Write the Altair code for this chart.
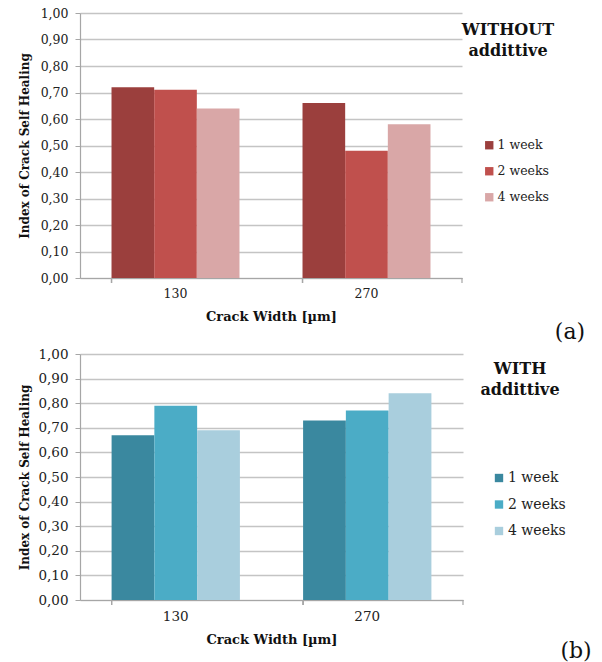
import altair as alt
import pandas as pd

crack_widths = ["130", "270"]
periods = ["1 week", "2 weeks", "4 weeks"]

# WITHOUT additive (panel a)
without_1w = [0.72, 0.66]
without_2w = [0.71, 0.48]
without_4w = [0.64, 0.58]
# WITH additive (panel b)
with_1w = [0.67, 0.73]
with_2w = [0.79, 0.77]
with_4w = [0.69, 0.84]

colors_without = ["#9B3F3D", "#C0504D", "#D9A7A7"]
colors_with = ["#3A889F", "#4BACC6", "#A9CEDD"]
y_ticks = [0.0, 0.1, 0.2, 0.3, 0.4, 0.5, 0.6, 0.7, 0.8, 0.9, 1.0]

FONT = "DejaVu Serif"
X_TITLE = "Crack Width [µm]"


def make_df(s1, s2, s3):
    rows = []
    for series, name in zip([s1, s2, s3], periods):
        for cw, v in zip(crack_widths, series):
            rows.append({"crack": cw, "period": name, "value": v})
    return pd.DataFrame(rows)


def panel(df, colors, title_text, tag, w, h, fs, leg_fs, leg_x, leg_y, leg_pad, title_xy,
          tag_xy, ytitle_pad, left_extent):
    x_axis = alt.Axis(title=X_TITLE, ticks=False, labelAngle=0,
                      labelFont=FONT, labelFontSize=fs, labelColor="#222222",
                      labelPadding=9, titleFont=FONT, titleFontSize=13,
                      titleFontWeight="bold", titleColor="#111111", titlePadding=11,
                      domainColor="#A6A6A6", domainWidth=1.2)
    x_scale = alt.Scale(paddingInner=0.33, paddingOuter=0.165)
    bars = alt.Chart(df).mark_bar().encode(
        x=alt.X("crack:N", sort=crack_widths, scale=x_scale, axis=x_axis),
        xOffset=alt.XOffset("period:N", sort=periods,
                            scale=alt.Scale(paddingInner=0, paddingOuter=0)),
        y=alt.Y("value:Q", scale=alt.Scale(domain=[0, 1]),
                axis=alt.Axis(values=y_ticks,
                              labelExpr="replace(format(datum.value, '.2f'), '.', ',')",
                              title="Index of Crack Self Healing",
                              labelFont=FONT, labelFontSize=fs, labelColor="#222222",
                              tickSize=5, tickColor="#A6A6A6", labelPadding=7,
                              titleFont=FONT, titleFontSize=12, titleFontWeight="bold",
                              titleColor="#111111", titlePadding=ytitle_pad,
                              gridColor="#C4C4C4", gridWidth=1.4,
                              domainColor="#A6A6A6", domainWidth=1.2)),
        color=alt.Color("period:N", sort=periods,
                        scale=alt.Scale(domain=periods, range=colors),
                        legend=alt.Legend(orient="none", legendX=leg_x, legendY=leg_y,
                                          title=None, symbolType="square", symbolSize=70,
                                          symbolStrokeWidth=0, labelFont=FONT,
                                          labelFontSize=leg_fs, labelColor="#222222",
                                          rowPadding=leg_pad, labelOffset=2)),
    )
    xticks = alt.Chart(df).mark_rule(color="#A6A6A6", strokeWidth=1.2).encode(
        x=alt.X("crack:N", sort=crack_widths, bandPosition=0, scale=x_scale, axis=x_axis),
        y=alt.value(h), y2=alt.value(h + 5),
    )
    end_tick = alt.Chart(pd.DataFrame({"t": [0]})).mark_rule(color="#A6A6A6", strokeWidth=1.2).encode(
        x=alt.value(w), y=alt.value(h), y2=alt.value(h + 5),
    )
    # invisible spacer that sets how far the panel reaches to the left
    spacer = alt.Chart(pd.DataFrame({"t": [0]})).mark_rule(opacity=0, strokeWidth=1).encode(
        x=alt.value(-left_extent), y=alt.value(0), y2=alt.value(h),
    )
    title = alt.Chart(pd.DataFrame({"t": [title_text]})).mark_text(
        font=FONT, fontSize=16, fontWeight="bold", color="#111111",
        lineBreak="\n", lineHeight=21, align="center", baseline="top",
    ).encode(text="t:N", x=alt.value(title_xy[0]), y=alt.value(title_xy[1]))
    tag_mark = alt.Chart(pd.DataFrame({"t": [tag]})).mark_text(
        font=FONT, fontSize=22, color="#111111", align="center", baseline="middle",
    ).encode(text="t:N", x=alt.value(tag_xy[0]), y=alt.value(tag_xy[1]))
    return alt.layer(bars, xticks, end_tick, spacer, title, tag_mark).properties(width=w, height=h)


df_a = make_df(without_1w, without_2w, without_4w)
df_b = make_df(with_1w, with_2w, with_4w)

chart_a = panel(df_a, colors_without, "WITHOUT\naddittive", "(a)", 382, 265, 12.5, 12.5,
                403, 126, 13, (428, 9), (490, 319), 9, 66)
chart_b = panel(df_b, colors_with, "WITH\naddittive", "(b)", 383, 246, 13.5, 14,
                412, 117, 12.5, (440, 7), (496, 297), 6, 66)

chart = alt.vconcat(chart_a, chart_b, spacing=4).resolve_scale(
    color="independent", x="independent", y="independent", xOffset="independent"
).configure(
    padding={"left": 14, "top": 7, "right": 5, "bottom": 5},
    background="white", font=FONT,
).configure_view(stroke=None)

chart.save("out.html", embed_options={"renderer": "svg", "actions": False})
